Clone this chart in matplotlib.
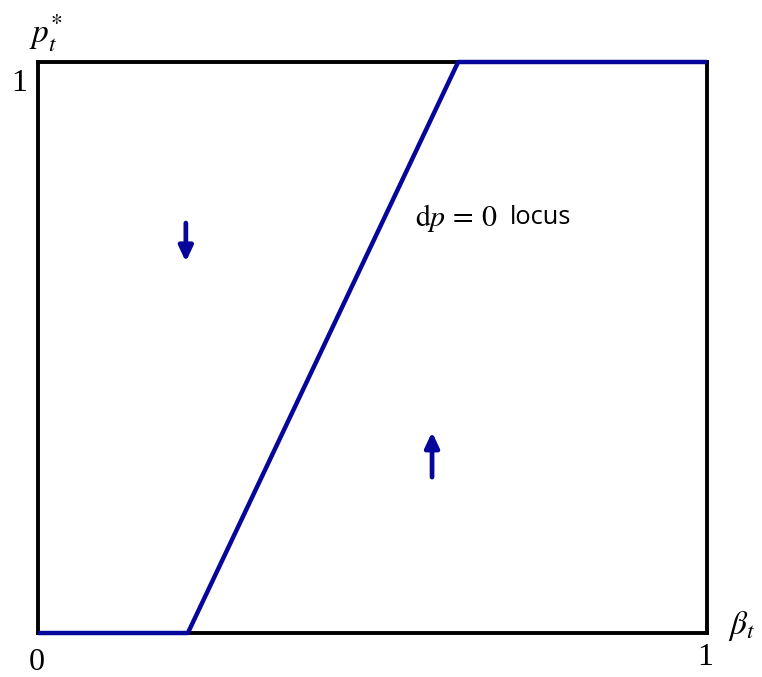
import matplotlib
matplotlib.use("Agg")
import matplotlib.pyplot as plt

plt.rcParams["mathtext.fontset"] = "stix"

# dp = 0 locus: flat at 0, linear rise, flat at 1
locus_beta = [0.0, 0.224, 0.628, 1.0]
locus_p = [0.0, 0.0, 1.0, 1.0]

# direction-of-motion arrows: (x, y_start, y_end)
arrow_down = (0.221, 0.718, 0.650)
arrow_up = (0.589, 0.273, 0.352)

tick_vals = [0, 1]
tick_labels = ["0", "1"]

navy = "#06069A"

fig = plt.figure(figsize=(7.62, 6.77), dpi=100)
ax = fig.add_axes([38 / 762, 44 / 677, 669 / 762, 571 / 677])
ax.set_xlim(0, 1)
ax.set_ylim(0, 1)
ax.set_xticks([])
ax.set_yticks([])
for s in ax.spines.values():
    s.set_linewidth(2.8)
    s.set_color("black")

ax.plot(locus_beta, locus_p, color=navy, lw=3.2, solid_capstyle="butt",
        clip_on=False, zorder=5)

for x, y0, y1 in (arrow_down, arrow_up):
    ax.annotate("", xy=(x, y1), xytext=(x, y0),
                arrowprops=dict(arrowstyle="-|>,head_length=0.9,head_width=0.42",
                                color=navy, lw=3.4, shrinkA=0, shrinkB=0))

ax.text(0.564, 0.727, r"$\mathrm{d}p\,=\,0$", fontsize=21.5, va="center",
        ha="left")
ax.text(0.706, 0.727, "locus", fontsize=18.3, va="center", ha="left",
        family="Open Sans")

serif = "Liberation Serif"
ax.text(-0.002, -0.051, tick_labels[0], transform=ax.transAxes, fontsize=23,
        ha="center", va="center", family=serif)
ax.text(0.998, -0.043, tick_labels[1], transform=ax.transAxes, fontsize=23,
        ha="center", va="center", family=serif)
ax.text(-0.028, 0.963, tick_labels[1], transform=ax.transAxes, fontsize=23,
        ha="center", va="center", family=serif)

ax.text(1.052, 0.013, r"$\beta_t$", transform=ax.transAxes, fontsize=24,
        ha="center", va="center")
ax.text(0.012, 1.05, r"$p_t^{*}$", transform=ax.transAxes, fontsize=24,
        ha="center", va="center")

fig.savefig("out.png", dpi=100, facecolor="white")
